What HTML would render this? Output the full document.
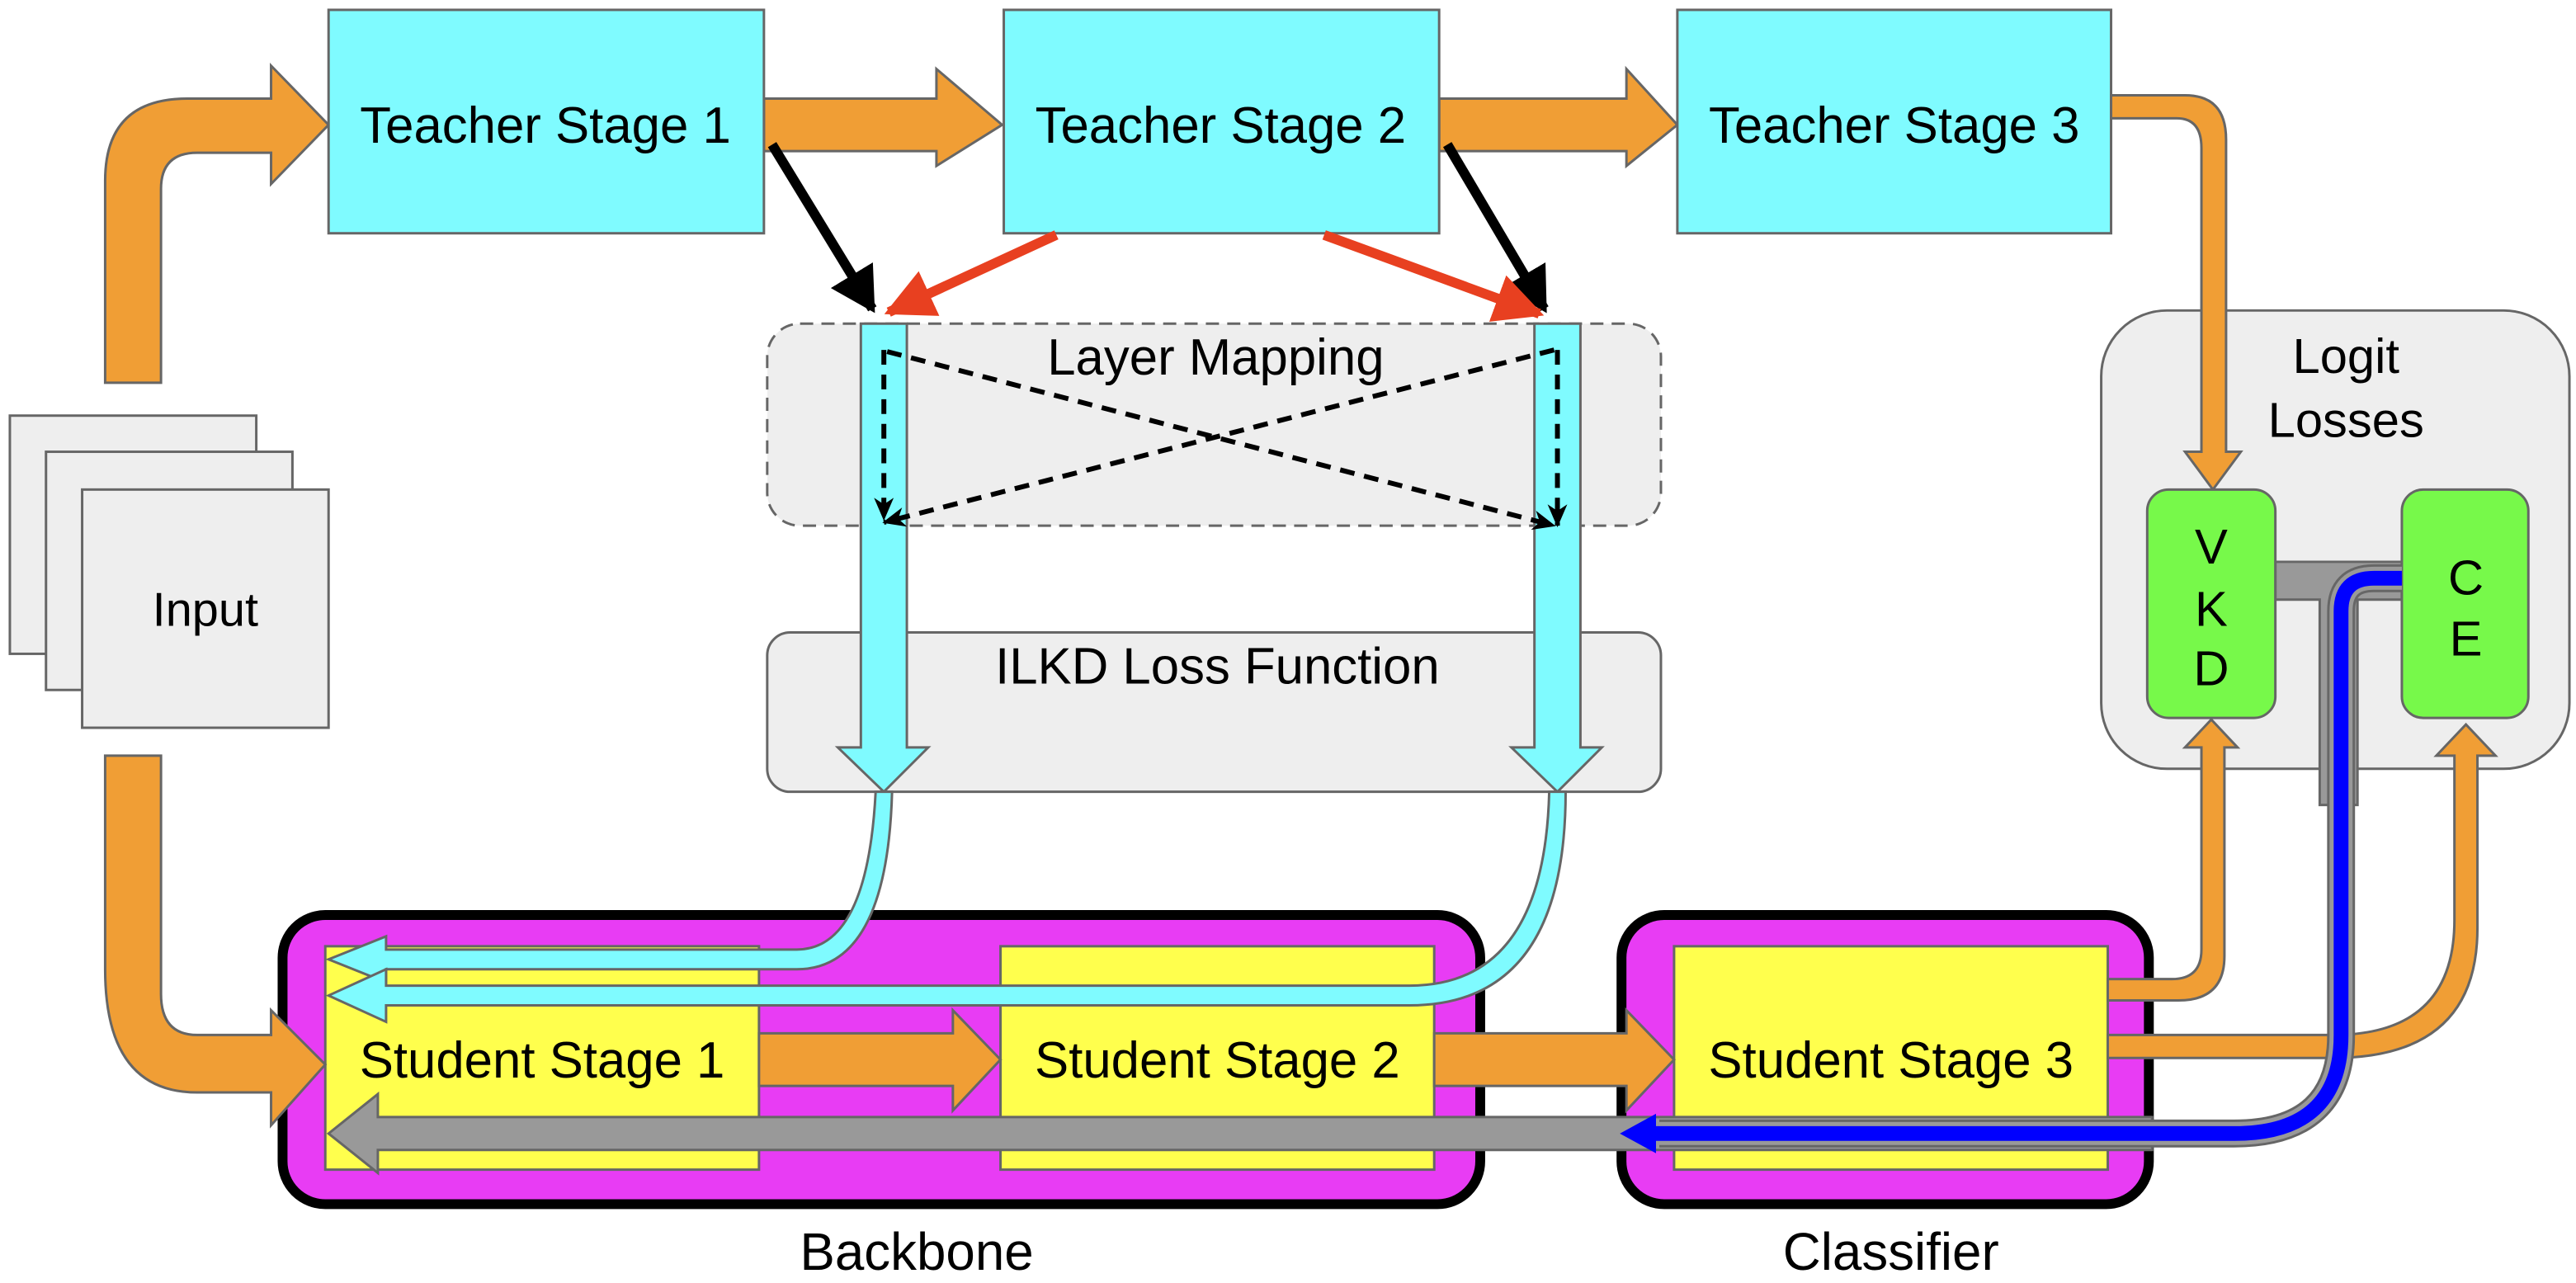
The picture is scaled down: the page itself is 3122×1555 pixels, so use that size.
<!DOCTYPE html>
<html><head><meta charset="utf-8"><style>html,body{margin:0;padding:0;background:#fff}svg{display:block}text{font-family:"Liberation Sans",sans-serif;fill:#000}</style></head><body>
<svg width="3122" height="1555" viewBox="0 0 1568 781" preserveAspectRatio="none" xmlns="http://www.w3.org/2000/svg">
<defs>
<marker id="ab" markerWidth="4.5" markerHeight="5" refX="4" refY="2.5" orient="auto" markerUnits="strokeWidth"><path d="M0,0 L4.5,2.5 L0,5 z" fill="#000"/></marker>
<marker id="ar" markerWidth="5" markerHeight="5" refX="4.5" refY="2.5" orient="auto" markerUnits="strokeWidth"><path d="M0,0 L5,2.5 L0,5 z" fill="#e84020"/></marker>
<marker id="ad" markerWidth="14" markerHeight="12" refX="13" refY="6" orient="auto" markerUnits="userSpaceOnUse"><path d="M0,0 L14,6 L0,12 L4,6 z" fill="#000"/></marker>
</defs>
<rect width="1568" height="781" fill="#fff"/>
<rect x="6" y="253" width="150" height="145" fill="#eee" stroke="#666" stroke-width="1.5"/>
<rect x="28" y="275" width="150" height="145" fill="#eee" stroke="#666" stroke-width="1.5"/>
<rect x="50" y="298" width="150" height="145" fill="#eee" stroke="#666" stroke-width="1.5"/>
<text x="125" y="381" font-size="29" text-anchor="middle">Input</text>
<path d="M64,233 V110 Q64,60 114,60 H165 V40 L200,76 L165,112 V93 H120 Q98,93 98,115 V233 Z" fill="#f09e35" stroke="#666" stroke-width="1.5"/>
<path d="M465,60 H570 V42 L610,76 L570,101 V92 H465 Z" fill="#f09e35" stroke="#666" stroke-width="1.5"/>
<path d="M876,60 H990 V42 L1021,76 L990,101 V92 H876 Z" fill="#f09e35" stroke="#666" stroke-width="1.5"/>
<rect x="200" y="6" width="265" height="136" fill="#7ffbff" stroke="#666" stroke-width="1.5"/>
<rect x="611" y="6" width="265" height="136" fill="#7ffbff" stroke="#666" stroke-width="1.5"/>
<rect x="1021" y="6" width="264" height="136" fill="#7ffbff" stroke="#666" stroke-width="1.5"/>
<text x="332" y="87" font-size="31" text-anchor="middle">Teacher Stage 1</text>
<text x="743" y="87" font-size="31" text-anchor="middle">Teacher Stage 2</text>
<text x="1153" y="87" font-size="31" text-anchor="middle">Teacher Stage 3</text>
<rect x="467" y="197" width="544" height="123" rx="20" fill="#eee" stroke="#666" stroke-width="1.5" stroke-dasharray="8,5"/>
<text x="740" y="228" font-size="31" text-anchor="middle">Layer Mapping</text>
<rect x="467" y="385" width="544" height="97" rx="14" fill="#eee" stroke="#666" stroke-width="1.5"/>
<text x="741" y="416" font-size="31" text-anchor="middle">ILKD Loss Function</text>
<path d="M524,197 V455 H510 L538,482 L565,455 H552 V197 Z" fill="#7ffbff" stroke="#666" stroke-width="1.5"/>
<path d="M934,197 V455 H920 L948,482 L975,455 H962 V197 Z" fill="#7ffbff" stroke="#666" stroke-width="1.5"/>
<g stroke="#000" stroke-width="3" stroke-dasharray="9,6" fill="none">
<line x1="538" y1="213" x2="538" y2="316" marker-end="url(#ad)"/>
<line x1="948" y1="213" x2="948" y2="320" marker-end="url(#ad)"/>
<line x1="540" y1="214" x2="946" y2="320" marker-end="url(#ad)"/>
<line x1="946" y1="213" x2="538" y2="318" marker-end="url(#ad)"/>
</g>
<line x1="470" y1="88" x2="531" y2="188" stroke="#000" stroke-width="6" marker-end="url(#ab)"/>
<line x1="881" y1="88" x2="940" y2="188" stroke="#000" stroke-width="6" marker-end="url(#ab)"/>
<line x1="643" y1="143" x2="541" y2="190" stroke="#e84020" stroke-width="6" marker-end="url(#ar)"/>
<line x1="806" y1="143" x2="937" y2="191" stroke="#e84020" stroke-width="6" marker-end="url(#ar)"/>
<rect x="1279" y="189" width="285" height="279" rx="40" fill="#eee" stroke="#666" stroke-width="1.5"/>
<text x="1428" y="227" font-size="30" text-anchor="middle">Logit</text>
<text x="1428" y="266" font-size="30" text-anchor="middle">Losses</text>
<path d="M1285,58 H1330 Q1355,58 1355,85 V275 H1364 L1347,298 L1330,275 H1340 V90 Q1340,72 1325,72 H1285 Z" fill="#f09e35" stroke="#666" stroke-width="1.5"/>
<path d="M1385,342 H1462 V365 H1435 V490 H1412 V365 H1385 Z" fill="#999" stroke="#666" stroke-width="1.5"/>
<rect x="1307" y="298" width="78" height="139" rx="13" fill="#77f94a" stroke="#666" stroke-width="1.5"/>
<rect x="1462" y="298" width="77" height="139" rx="13" fill="#77f94a" stroke="#666" stroke-width="1.5"/>
<text x="1346" y="343" font-size="30" text-anchor="middle">V</text>
<text x="1346" y="381" font-size="30" text-anchor="middle">K</text>
<text x="1346" y="417" font-size="30" text-anchor="middle">D</text>
<text x="1501" y="362" font-size="30" text-anchor="middle">C</text>
<text x="1501" y="399" font-size="30" text-anchor="middle">E</text>
<rect x="172" y="557" width="729" height="176" rx="26" fill="#e83cf4" stroke="#000" stroke-width="6"/>
<rect x="987" y="557" width="321" height="176" rx="26" fill="#e83cf4" stroke="#000" stroke-width="6"/>
<rect x="198" y="576" width="264" height="136" fill="#ffff4d" stroke="#666" stroke-width="1.5"/>
<rect x="609" y="576" width="264" height="136" fill="#ffff4d" stroke="#666" stroke-width="1.5"/>
<rect x="1019" y="576" width="264" height="136" fill="#ffff4d" stroke="#666" stroke-width="1.5"/>
<path d="M64,460 V590 Q64,665 120,665 H165 V685 L198,648 L165,615 V630 H120 Q98,630 98,605 V460 Z" fill="#f09e35" stroke="#666" stroke-width="1.5"/>
<path d="M462,629 H580 V615 L609,645 L580,676 V661 H462 Z" fill="#f09e35" stroke="#666" stroke-width="1.5"/>
<path d="M873,629 H990 V615 L1019,645 L990,676 V661 H873 Z" fill="#f09e35" stroke="#666" stroke-width="1.5"/>
<path d="M1283,596 H1322 Q1340,596 1340,578 V455 H1330 L1346,438 L1362,455 H1354 V582 Q1354,609 1326,609 H1283 Z" fill="#f09e35" stroke="#666" stroke-width="1.5"/>
<path d="M1283,630 H1420 Q1494,630 1494,560 V460 H1483 L1501,441 L1519,460 H1508 V565 Q1508,644 1420,644 H1283 Z" fill="#f09e35" stroke="#666" stroke-width="1.5"/>
<path d="M533,482 Q528,578 485,578 H235 V570 L200,584 L235,598 V590 H485 Q540,590 543,482 Z" fill="#7ffbff" stroke="#666" stroke-width="1.5"/>
<path d="M943,482 Q940,600 858,600 H235 V590 L200,606 L235,622 V612 H858 Q953,612 953,482 Z" fill="#7ffbff" stroke="#666" stroke-width="1.5"/>
<path d="M1310,680 H230 V666 L200,690 L230,714 V700 H1310 Z" fill="#999" stroke="#666" stroke-width="1.5"/>
<path d="M1462,352 H1445 Q1425,352 1425,372 V630 Q1425,690 1360,690 H1010" fill="none" stroke="#666" stroke-width="17"/>
<path d="M1462,352 H1445 Q1425,352 1425,372 V630 Q1425,690 1360,690 H1010" fill="none" stroke="#999" stroke-width="14"/>
<path d="M1462,352 H1445 Q1425,352 1425,372 V630 Q1425,690 1360,690 H1005" fill="none" stroke="#0000ff" stroke-width="9"/>
<path d="M1008,678 L986,690 L1008,702 Z" fill="#0000ff"/>
<text x="558" y="773" font-size="32" text-anchor="middle">Backbone</text>
<text x="1151" y="773" font-size="32" text-anchor="middle">Classifier</text>
<text x="330" y="656" font-size="31" text-anchor="middle">Student Stage 1</text>
<text x="741" y="656" font-size="31" text-anchor="middle">Student Stage 2</text>
<text x="1151" y="656" font-size="31" text-anchor="middle">Student Stage 3</text>
</svg>
</body></html>
